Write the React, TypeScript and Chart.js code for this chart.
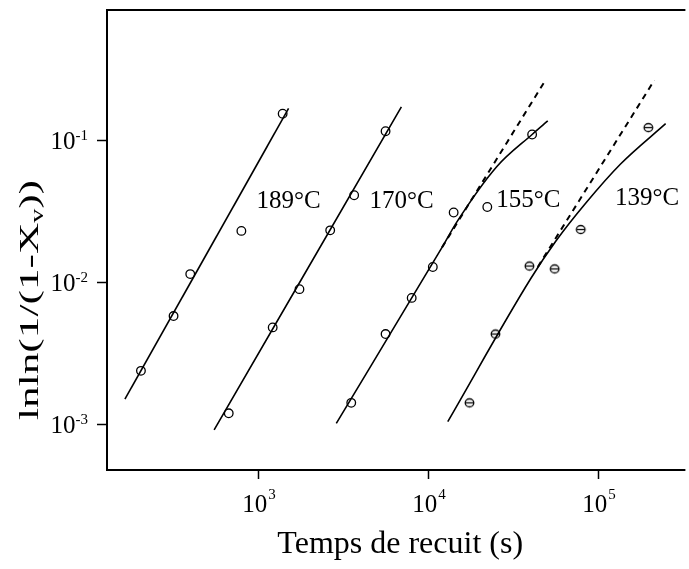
import React, { useEffect, useRef } from "react";
import { Chart, registerables } from "chart.js";
Chart.register(...registerables);

// ---- axis ticks ----
const xTickValues = [1e3, 1e4, 1e5];
const xTickExps = ["3", "4", "5"];
const yTickValues = [1e-1, 1e-2, 1e-3];
const yTickExps = ["-1", "-2", "-3"];

// ---- 189°C ----
const t189 = [205, 319, 400, 800, 1400];
const v189 = [2.37e-3, 5.77e-3, 1.14e-2, 2.3e-2, 0.154];
const fit189T = [165, 1517];
const fit189V = [1.5e-3, 0.168];

// ---- 170°C ----
const t170 = [674, 1223, 1758, 2667, 3690, 5650];
const v170 = [1.19e-3, 4.8e-3, 8.93e-3, 2.32e-2, 4.1e-2, 0.116];
const fit170T = [553, 7000];
const fit170V = [9.08e-4, 0.172];

// ---- 155°C ----
const t155 = [3548, 5650, 8050, 10720, 14220, 22440, 41200];
const v155 = [1.41e-3, 4.31e-3, 7.75e-3, 1.28e-2, 3.1e-2, 3.39e-2, 0.11];
const fit155T = [2897, 12150, 14860, 25410, 41200, 50930];
const fit155V = [1.01e-3, 1.76e-2, 2.66e-2, 6.49e-2, 0.11, 0.137];
const dash155T = [12150, 48640];
const dash155V = [1.76e-2, 0.258];

// ---- 139°C ----
const t139 = [17620, 25060, 39720, 55900, 79620, 199100];
const v139 = [1.41e-3, 4.31e-3, 1.3e-2, 1.24e-2, 2.35e-2, 0.123];
const fit139T = [13130, 40640, 56880, 85110, 136200, 251800];
const fit139V = [1.04e-3, 1.07e-2, 1.95e-2, 3.6e-2, 6.78e-2, 0.131];
const dash139T = [44470, 215800];
const dash139V = [1.28e-2, 0.265];

// ---- curve labels (anchor in data units) ----
const curveLabels = ["189°C", "170°C", "155°C", "139°C"];
const curveLabelT = [983, 4540, 25320, 126800];
const curveLabelV = [0.0368, 0.0368, 0.0378, 0.0391];

const xTitle = "Temps de recuit (s)";
const yTitleMain = "lnln(1/(1-X";
const yTitleSub = "v";
const yTitleEnd = "))";

const SERIF = "'Liberation Serif', 'Times New Roman', serif";

const pts = (xs: number[], ys: number[]) => xs.map((x, i) => ({ x, y: ys[i] }));

function makeThetaMarker(): HTMLCanvasElement {
  const c = document.createElement("canvas");
  c.width = 13;
  c.height = 13;
  const g = c.getContext("2d")!;
  g.strokeStyle = "#000";
  g.lineWidth = 1.3;
  g.beginPath();
  g.ellipse(6.5, 6.5, 4.3, 4.0, 0, 0, Math.PI * 2);
  g.stroke();
  g.beginPath();
  g.moveTo(2.5, 6.5);
  g.lineTo(10.5, 6.5);
  g.stroke();
  return c;
}

const framePlugin = {
  id: "frameAndText",
  afterDraw(chart: any) {
    const { ctx, chartArea: a } = chart;
    const xs = chart.scales.x;
    const ys = chart.scales.y;
    ctx.save();
    ctx.strokeStyle = "#000";
    ctx.fillStyle = "#000";
    ctx.lineWidth = 2;
    ctx.beginPath();
    ctx.moveTo(a.right + 2, a.top);
    ctx.lineTo(a.left, a.top);
    ctx.lineTo(a.left, a.bottom);
    ctx.lineTo(a.right + 2, a.bottom);
    ctx.stroke();

    // x ticks + labels
    ctx.lineWidth = 1.5;
    xTickValues.forEach((v, i) => {
      const px = Math.round(xs.getPixelForValue(v)) + 0.5;
      ctx.beginPath();
      ctx.moveTo(px, a.bottom);
      ctx.lineTo(px, a.bottom + 9);
      ctx.stroke();
      ctx.font = `25px ${SERIF}`;
      const wBase = ctx.measureText("10").width;
      ctx.font = `15px ${SERIF}`;
      const wExp = ctx.measureText(xTickExps[i]).width;
      const left = px - (wBase + wExp) / 2;
      ctx.textAlign = "left";
      ctx.textBaseline = "alphabetic";
      ctx.font = `25px ${SERIF}`;
      ctx.fillText("10", left, a.bottom + 42);
      ctx.font = `15px ${SERIF}`;
      ctx.fillText(xTickExps[i], left + wBase + 1, a.bottom + 29);
    });

    // y ticks + labels
    yTickValues.forEach((v, i) => {
      const py = Math.round(ys.getPixelForValue(v)) + 0.5;
      ctx.beginPath();
      ctx.moveTo(a.left - 10, py);
      ctx.lineTo(a.left, py);
      ctx.stroke();
      ctx.font = `15px ${SERIF}`;
      const wExp = ctx.measureText(yTickExps[i]).width;
      ctx.font = `25px ${SERIF}`;
      const wBase = ctx.measureText("10").width;
      const right = a.left - 19;
      ctx.textAlign = "left";
      ctx.textBaseline = "alphabetic";
      ctx.fillText("10", right - wExp - wBase, py + 8);
      ctx.font = `15px ${SERIF}`;
      ctx.fillText(yTickExps[i], right - wExp, py - 1);
    });

    // curve labels
    ctx.font = `25px ${SERIF}`;
    ctx.textAlign = "left";
    ctx.textBaseline = "middle";
    curveLabels.forEach((s, i) => {
      ctx.fillText(s, xs.getPixelForValue(curveLabelT[i]), ys.getPixelForValue(curveLabelV[i]));
    });

    // x title
    ctx.font = `32px ${SERIF}`;
    ctx.textAlign = "center";
    ctx.textBaseline = "alphabetic";
    ctx.fillText(xTitle, (a.left + a.right) / 2 + 5, 553);

    // y title (rotated, stretched along its length)
    ctx.font = `28px ${SERIF}`;
    const w1 = ctx.measureText(yTitleMain).width;
    const w3 = ctx.measureText(yTitleEnd).width;
    ctx.font = `18px ${SERIF}`;
    const w2 = ctx.measureText(yTitleSub).width;
    const total = w1 + w2 + w3;
    const target = 240;
    const sx = target / total;
    ctx.save();
    ctx.translate(38, 300);
    ctx.rotate(-Math.PI / 2);
    ctx.scale(sx, 1);
    ctx.textAlign = "left";
    ctx.textBaseline = "alphabetic";
    let cx = -total / 2;
    ctx.font = `28px ${SERIF}`;
    ctx.fillText(yTitleMain, cx, 0);
    cx += w1;
    ctx.font = `18px ${SERIF}`;
    ctx.fillText(yTitleSub, cx, 5);
    cx += w2;
    ctx.font = `28px ${SERIF}`;
    ctx.fillText(yTitleEnd, cx, 0);
    ctx.restore();

    ctx.restore();
  },
};

export default function App() {
  const ref = useRef<HTMLCanvasElement | null>(null);
  useEffect(() => {
    document.body.style.margin = "0";
    const canvas = ref.current!;
    const theta = makeThetaMarker();
    const lineDs = (xs: number[], ys: number[], dashed = false) => ({
      data: pts(xs, ys),
      showLine: true,
      borderColor: "#000",
      borderWidth: dashed ? 2 : 1.6,
      borderDash: dashed ? [6, 5] : [],
      pointRadius: 0,
      fill: false,
      cubicInterpolationMode: "monotone" as const,
      tension: 0.4,
    });
    const pointDs = (xs: number[], ys: number[], style: any = "circle") => ({
      data: pts(xs, ys),
      showLine: false,
      pointStyle: style,
      pointRadius: 4.3,
      pointBorderWidth: 1.3,
      pointBorderColor: "#000",
      pointBackgroundColor: "rgba(0,0,0,0)",
      borderColor: "#000",
    });
    const chart = new Chart(canvas, {
      type: "scatter",
      data: {
        datasets: [
          lineDs(fit189T, fit189V),
          lineDs(fit170T, fit170V),
          lineDs(fit155T, fit155V),
          lineDs(dash155T, dash155V, true),
          lineDs(fit139T, fit139V),
          lineDs(dash139T, dash139V, true),
          pointDs(t189, v189),
          pointDs(t170, v170),
          pointDs(t155, v155),
          pointDs(t139, v139, theta),
        ] as any,
      },
      options: {
        animation: false,
        responsive: false,
        devicePixelRatio: 1,
        layout: { padding: { left: 107, top: 10, right: 0, bottom: 99 } },
        plugins: { legend: { display: false }, tooltip: { enabled: false } },
        scales: {
          x: { type: "logarithmic", display: false, min: 129.4, max: 320300, bounds: "data" },
          y: { type: "logarithmic", display: false, min: 4.74e-4, max: 0.83, bounds: "data" },
        },
      },
      plugins: [framePlugin],
    });
    return () => chart.destroy();
  }, []);
  return <canvas ref={ref} width={689} height={569} style={{ display: "block" }} />;
}
